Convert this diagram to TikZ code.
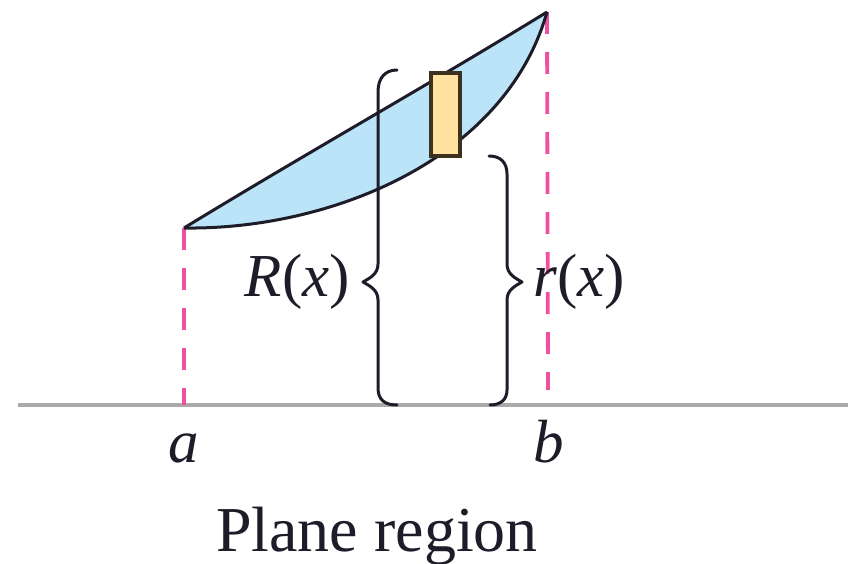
\documentclass[tikz,border=0pt]{standalone}
\usepackage{fontspec}
\setmainfont{Liberation Serif}
\definecolor{regionblue}{RGB}{188,228,248}
\definecolor{slabfill}{RGB}{255,226,160}
\definecolor{slabedge}{RGB}{60,48,30}
\definecolor{dashpink}{RGB}{240,80,160}
\definecolor{axisgray}{RGB}{170,170,170}
\definecolor{inkc}{RGB}{30,28,40}
\tikzset{
  outline/.style={draw=inkc, line width=3pt, line join=round},
  bracestyle/.style={draw=inkc, line width=3pt, line join=round, line cap=round},
  guide/.style={draw=dashpink, line width=3.8pt, dash pattern=on 22pt off 18pt},
  lbl/.style={text=inkc, inner sep=0pt, font=\fontsize{61}{66}\selectfont},
  caption/.style={text=inkc, inner sep=0pt, font=\fontsize{64}{70}\selectfont}
}
\begin{document}
\begin{tikzpicture}[x=1pt,y=-1pt]
\useasboundingbox (0,0) rectangle (848,564);
% axis
\coordinate (axL) at (18,405);
\coordinate (axR) at (848,405);
\draw[draw=axisgray, line width=4.5pt] (axL) -- (axR);
% key points
\coordinate (A) at (184,228);
\coordinate (B) at (547,12);
\coordinate (Abase) at (184,405);
\coordinate (Bbase) at (548,390);
% dashed guides
\draw[guide] (A) -- (Abase);
\draw[guide] (B) -- (Bbase);
% region
\path[fill=regionblue] (A) .. controls (305,154) and (430,84) .. (B)
   .. controls (505,160) and (330,230) .. (A) -- cycle;
\draw[outline] (A) .. controls (305,154) and (430,84) .. (B);
\draw[outline] (A) .. controls (330,230) and (505,160) .. (B);
% slab
\draw[fill=slabfill, draw=slabedge, line width=3.2pt] (431,73) rectangle (460,156);
% left brace (R(x))
\draw[bracestyle] (397,70) .. controls (385,70) and (378,78) .. (378,92)
   -- (378,264) .. controls (378,274) and (370,278) .. (363,282)
   .. controls (370,286) and (378,290) .. (378,300)
   -- (378,388) .. controls (378,400) and (385,405) .. (397,405);
% right brace (r(x))
\draw[bracestyle] (489,156) .. controls (500,156) and (507,162) .. (507,174)
   -- (507,264) .. controls (507,274) and (515,278) .. (522,282)
   .. controls (515,286) and (507,290) .. (507,300)
   -- (507,390) .. controls (507,400) and (500,405) .. (490,405);
% labels
\node[lbl, anchor=base east] (Rlab) at (350,296) {\textit{R}(\textit{x})};
\node[lbl, anchor=base west] (rlab) at (533,296) {\textit{r}(\textit{x})};
\node[lbl, anchor=base] (alab) at (184,462) {\textit{a}};
\node[lbl, anchor=base] (blab) at (549,462) {\textit{b}};
\node[caption, anchor=base] (cap) at (377,551) {Plane region};
\end{tikzpicture}
\end{document}
